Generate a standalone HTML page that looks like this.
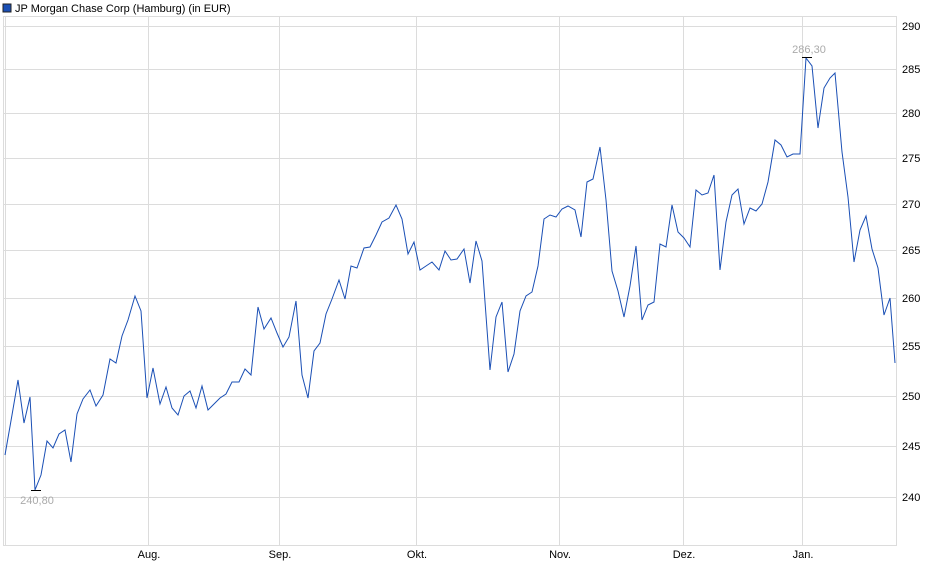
<!DOCTYPE html>
<html><head><meta charset="utf-8"><style>
body{margin:0;background:#fff;}
svg{display:block;font-family:"Liberation Sans",sans-serif;}
</style></head><body>
<svg width="940" height="579" viewBox="0 0 940 579" xmlns="http://www.w3.org/2000/svg">
<rect x="3" y="4" width="8" height="8" fill="#1a4fb5" stroke="#222" stroke-width="1"/>
<text x="15" y="12" font-size="11" fill="#000">JP Morgan Chase Corp (Hamburg) (in EUR)</text>
<g stroke="#dcdcdc" stroke-width="1" fill="none">
<rect x="3.5" y="16.5" width="893" height="529"/>
<line x1="5.5" y1="16" x2="5.5" y2="545"/>
<line x1="4" y1="26.5" x2="896" y2="26.5"/>
<line x1="4" y1="69.5" x2="896" y2="69.5"/>
<line x1="4" y1="113.5" x2="896" y2="113.5"/>
<line x1="4" y1="158.5" x2="896" y2="158.5"/>
<line x1="4" y1="204.5" x2="896" y2="204.5"/>
<line x1="4" y1="250.5" x2="896" y2="250.5"/>
<line x1="4" y1="298.5" x2="896" y2="298.5"/>
<line x1="4" y1="346.5" x2="896" y2="346.5"/>
<line x1="4" y1="396.5" x2="896" y2="396.5"/>
<line x1="4" y1="446.5" x2="896" y2="446.5"/>
<line x1="4" y1="497.5" x2="896" y2="497.5"/>
<line x1="148.5" y1="16" x2="148.5" y2="545"/>
<line x1="279.5" y1="16" x2="279.5" y2="545"/>
<line x1="416.5" y1="16" x2="416.5" y2="545"/>
<line x1="559.5" y1="16" x2="559.5" y2="545"/>
<line x1="683.5" y1="16" x2="683.5" y2="545"/>
<line x1="802.5" y1="16" x2="802.5" y2="545"/>
</g>
<g font-size="11" fill="#000">
<text x="902" y="30">290</text><text x="902" y="73">285</text><text x="902" y="117">280</text>
<text x="902" y="162">275</text><text x="902" y="208">270</text><text x="902" y="254">265</text>
<text x="902" y="302">260</text><text x="902" y="350">255</text><text x="902" y="400">250</text>
<text x="902" y="450">245</text><text x="902" y="501">240</text>
</g>
<g font-size="11" fill="#000" text-anchor="middle">
<text x="149" y="558">Aug.</text><text x="280" y="558">Sep.</text><text x="417" y="558">Okt.</text>
<text x="560" y="558">Nov.</text><text x="684" y="558">Dez.</text><text x="803" y="558">Jan.</text>
</g>
<polyline fill="none" stroke="#1a4fb5" stroke-width="1" points="5,455 12,415 18,380 24,423 30,397 35,490 41,475 47,441 53,448 59,434 65,430 71,462 77,414 83,399 90,390 96,406 103,395 110,359 116,363 122,336 128,320 135,296 141,311 147,398 153,368 160,404 166,387 172,408 178,415 184,396 190,391 196,408 202,386 208,410 214,404 220,398 226,394 232,382 239,382 245,369 251,375 258,307 264,329 271,318 277,333 283,347 289,337 296,301 302,375 308,398 314,351 320,343 326,314 332,299 339,280 345,299 351,266 357,268 364,248 370,247 376,235 382,222 389,218 396,205 402,219 408,254 414,242 420,270 426,266 432,262 439,270 445,251 451,260 457,259 464,249 470,283 476,241 482,261 490,370 496,317 502,302 508,372 514,354 520,311 526,296 532,292 538,266 544,219 550,215 556,217 562,209 568,206 575,210 581,237 587,182 593,179 600,147 606,200 612,271 618,291 624,317 630,286 636,246 642,320 648,305 654,302 660,244 666,247 672,205 678,232 684,238 690,247 696,190 702,195 708,193 714,175 720,270 726,222 732,195 738,189 744,224 750,208 756,211 762,204 768,182 775,140 781,145 787,157 793,154 800,154 806,58 812,66 818,128 824,88 830,78 835,73 842,152 848,197 854,262 860,230 866,216 872,249 878,268 884,315 890,298 895,363"/>
<line x1="31" y1="490.5" x2="41" y2="490.5" stroke="#000" stroke-width="1"/>
<line x1="802" y1="57.5" x2="812" y2="57.5" stroke="#000" stroke-width="1"/>
<g font-size="11" fill="#aaa" text-anchor="middle">
<text x="37" y="504">240,80</text>
<text x="809" y="53">286,30</text>
</g>
</svg>
</body></html>
